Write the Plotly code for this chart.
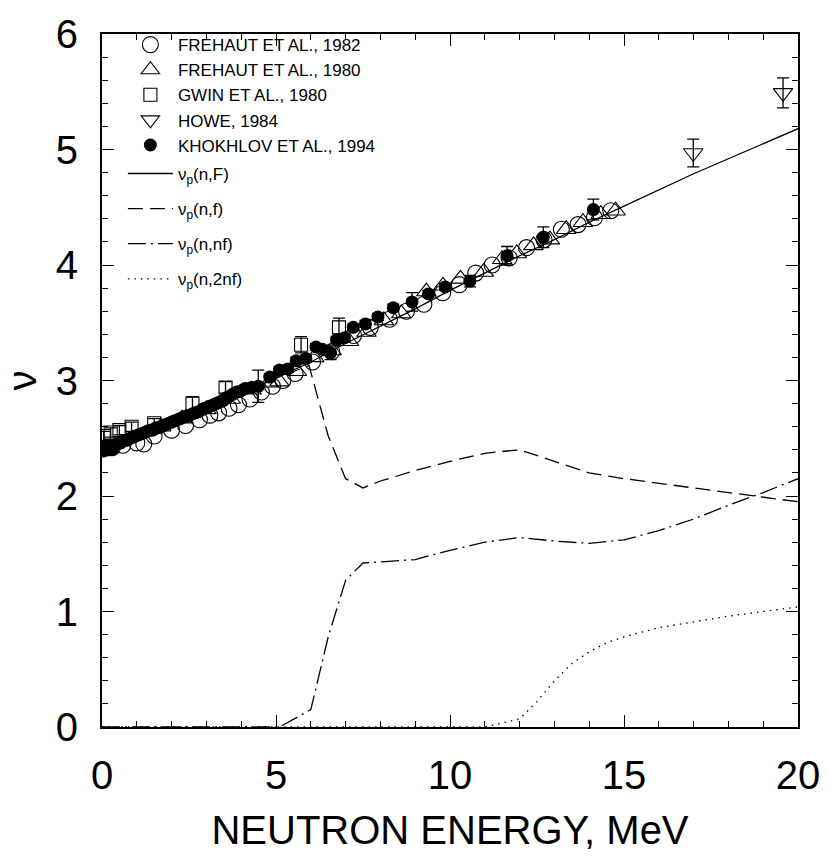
import plotly.graph_objects as go

# ---------------- data ----------------
# Evaluated curves
E_tot = [0, 1, 2, 3, 4, 5, 6, 7, 8, 9, 10, 11, 12, 13, 14, 15, 16, 17, 18, 19, 20]
nu_tot = [2.42, 2.53, 2.65, 2.77, 2.89, 3.02, 3.16, 3.32, 3.47, 3.62, 3.78, 3.93, 4.08, 4.22, 4.37, 4.51, 4.65, 4.79, 4.92, 5.05, 5.18]

E_f = [0, 1, 2, 3, 4, 5, 5.6, 5.95, 6.5, 7.0, 7.5, 8, 9, 10, 11, 12, 13, 14, 15, 16, 17, 18, 19, 20]
nu_f = [2.42, 2.53, 2.65, 2.77, 2.89, 3.02, 3.09, 3.13, 2.52, 2.15, 2.07, 2.13, 2.22, 2.30, 2.37, 2.40, 2.30, 2.20, 2.15, 2.11, 2.07, 2.03, 1.99, 1.95]

E_nf = [0, 5.1, 6.0, 6.5, 7.0, 7.5, 8, 9, 10, 11, 12, 13, 14, 15, 16, 17, 18, 19, 20]
nu_nf = [0, 0.0, 0.15, 0.78, 1.27, 1.42, 1.43, 1.45, 1.53, 1.60, 1.64, 1.61, 1.59, 1.62, 1.70, 1.80, 1.92, 2.03, 2.15]

E_2nf = [0, 11.0, 12.0, 12.5, 13.0, 13.5, 14, 14.5, 15, 16, 17, 18, 19, 20]
nu_2nf = [0, 0.0, 0.07, 0.22, 0.40, 0.55, 0.65, 0.73, 0.78, 0.86, 0.91, 0.96, 1.00, 1.04]

# Experimental data
E_fre82 = [0.3, 0.6, 1.0, 1.2, 1.5, 2.0, 2.4, 2.8, 3.1, 3.35, 3.65, 3.92, 4.25, 4.58, 4.9, 5.2, 5.55,
           6.05, 6.6, 7.23, 7.71, 8.26, 8.75, 9.25, 9.79, 10.27, 10.74, 11.21, 11.7, 12.2, 12.7, 13.2,
           13.68, 14.15, 14.62]
nu_fre82 = [2.42, 2.44, 2.46, 2.45, 2.52, 2.57, 2.61, 2.66, 2.70, 2.72, 2.76, 2.79, 2.84, 2.90, 2.95,
            3.00, 3.06, 3.16, 3.25, 3.39, 3.46, 3.53, 3.60, 3.66, 3.76, 3.83, 3.93, 4.00, 4.06, 4.15,
            4.22, 4.31, 4.35, 4.41, 4.47]

E_fre80 = [1.7, 2.3, 3.0, 3.7, 4.3, 4.8, 5.1, 5.6, 6.1, 6.6, 7.1, 7.6, 8.1, 8.6, 9.32, 9.8, 10.3,
           10.97, 11.5, 11.92, 12.4, 12.87, 13.34, 13.82, 14.33, 14.76]
nu_fre80 = [2.60, 2.67, 2.75, 2.84, 2.92, 2.98, 2.99, 3.08, 3.20, 3.26, 3.34, 3.42, 3.52, 3.58, 3.77,
            3.82, 3.88, 3.94, 4.05, 4.10, 4.17, 4.22, 4.31, 4.37, 4.44, 4.47]

E_gwin = [0.05, 0.25, 0.5, 0.85, 1.5, 2.6, 3.55, 5.72, 6.81]
nu_gwin = [2.52, 2.55, 2.57, 2.60, 2.63, 2.80, 2.94, 3.31, 3.46]
err_gwin = [0.04, 0.04, 0.04, 0.04, 0.04, 0.06, 0.05, 0.07, 0.08]

E_howe = [16.99, 19.57]
nu_howe = [4.97, 5.49]
err_howe = [0.12, 0.13]

E_kho = [0.02, 0.05, 0.10, 0.14, 0.18, 0.23, 0.28, 0.32, 0.37, 0.42,
         0.48, 0.54, 0.60, 0.67, 0.75, 0.82, 0.89, 0.97, 1.05, 1.13,
         1.22, 1.30, 1.38, 1.46, 1.55, 1.62, 1.70, 1.77, 1.84, 1.92,
         2.00, 2.08, 2.17, 2.25, 2.33, 2.41, 2.50, 2.59, 2.68, 2.78,
         2.88, 2.96, 3.05, 3.12, 3.20, 3.28, 3.35, 3.43, 3.50, 3.57,
         3.64, 3.75, 3.87, 3.99, 4.11, 4.30, 4.49, 4.82, 5.10, 5.34,
         5.58, 5.86, 6.15, 6.33, 6.57, 6.74, 6.97, 7.22, 7.57, 7.93,
         8.37, 8.91, 9.38, 9.86, 10.57, 11.64, 12.68, 14.12]
nu_kho = [2.43, 2.39, 2.41, 2.44, 2.40, 2.42, 2.40, 2.43, 2.44, 2.45,
          2.46, 2.46, 2.48, 2.48, 2.49, 2.50, 2.51, 2.52, 2.53, 2.54,
          2.55, 2.56, 2.57, 2.57, 2.59, 2.59, 2.60, 2.61, 2.62, 2.63,
          2.64, 2.65, 2.66, 2.67, 2.68, 2.69, 2.70, 2.71, 2.72, 2.73,
          2.75, 2.76, 2.77, 2.78, 2.79, 2.80, 2.81, 2.82, 2.83, 2.85,
          2.86, 2.88, 2.90, 2.91, 2.93, 2.94, 2.95, 3.03, 3.09, 3.10,
          3.17, 3.19, 3.29, 3.27, 3.24, 3.35, 3.37, 3.46, 3.49, 3.55,
          3.63, 3.68, 3.75, 3.81, 3.86, 4.08, 4.24, 4.48]
err_kho = [0.02, 0.02, 0.02, 0.02, 0.02, 0.02, 0.02, 0.02, 0.02, 0.02,
           0.02, 0.02, 0.02, 0.02, 0.02, 0.02, 0.02, 0.02, 0.02, 0.02,
           0.02, 0.02, 0.02, 0.02, 0.02, 0.02, 0.02, 0.02, 0.02, 0.02,
           0.02, 0.02, 0.02, 0.02, 0.02, 0.02, 0.02, 0.02, 0.02, 0.02,
           0.02, 0.02, 0.02, 0.02, 0.02, 0.02, 0.02, 0.02, 0.02, 0.02,
           0.02, 0.02, 0.02, 0.02, 0.03, 0.03, 0.14, 0.03, 0.03, 0.03,
           0.03, 0.03, 0.03, 0.03, 0.06, 0.03, 0.03, 0.03, 0.03, 0.03,
           0.03, 0.08, 0.03, 0.03, 0.05, 0.08, 0.09, 0.09]

labels = ["FREHAUT ET AL., 1982", "FREHAUT ET AL., 1980", "GWIN ET AL., 1980", "HOWE, 1984",
          "KHOKHLOV ET AL., 1994", "ν<sub>p</sub>(n,F)", "ν<sub>p</sub>(n,f)",
          "ν<sub>p</sub>(n,nf)", "ν<sub>p</sub>(n,2nf)"]

# ---------------- figure ----------------
FONT = "Liberation Sans, Arial, sans-serif"
BLACK = "#000000"

fig = go.Figure()

def err(arr):
    return dict(type="data", array=arr, visible=True, color=BLACK, thickness=1.3, width=6)

fig.add_trace(go.Scatter(x=E_fre82, y=nu_fre82, mode="markers", name=labels[0], legend="legend",
                         marker=dict(symbol="circle-open", size=16, color=BLACK, line=dict(width=1.1))))
fig.add_trace(go.Scatter(x=E_fre80, y=nu_fre80, mode="markers", name=labels[1], legend="legend",
                         marker=dict(symbol="triangle-up-open", size=17, color=BLACK, line=dict(width=1.1))))
fig.add_trace(go.Scatter(x=E_gwin, y=nu_gwin, mode="markers", name=labels[2], error_y=err(err_gwin),
                         legend="legend",
                         marker=dict(symbol="square-open", size=13, color=BLACK, line=dict(width=1.1))))
fig.add_trace(go.Scatter(x=E_howe, y=nu_howe, mode="markers", name=labels[3], error_y=err(err_howe),
                         legend="legend",
                         marker=dict(symbol="triangle-down-open", size=17, color=BLACK, line=dict(width=1.1))))
fig.add_trace(go.Scatter(x=E_kho, y=nu_kho, mode="markers", name=labels[4], error_y=err(err_kho),
                         legend="legend",
                         marker=dict(symbol="circle", size=13, color=BLACK)))

line_specs = [(E_tot, nu_tot, "solid"), (E_f, nu_f, "15px,7px"),
              (E_nf, nu_nf, "18px,5px,2px,5px"), (E_2nf, nu_2nf, "1.5px,5px")]
for i, (xs, ys, dash) in enumerate(line_specs):
    fig.add_trace(go.Scatter(x=xs, y=ys, mode="lines", name=labels[5 + i], legend="legend2",
                             legendgroup=f"g{i}",
                             line=dict(color=BLACK, width=1.3, dash=dash)))

axis_common = dict(
    showline=True, linecolor=BLACK, linewidth=2, mirror="allticks",
    ticks="inside", ticklen=12, tickwidth=1.2, tickcolor=BLACK,
    showgrid=False, zeroline=False,
    tickfont=dict(family=FONT, size=40, color=BLACK),
)

legend_common = dict(xanchor="left", yanchor="top", bgcolor="rgba(0,0,0,0)", borderwidth=0,
                     font=dict(family=FONT, size=17, color=BLACK), itemwidth=45)

fig.update_layout(
    width=832, height=857,
    margin=dict(l=102, r=26, t=25, b=128),
    paper_bgcolor="white", plot_bgcolor="white",
    font=dict(family=FONT, color=BLACK),
    showlegend=True,
    legend=dict(x=0.03, y=1.01, tracegroupgap=0, **legend_common),
    legend2=dict(x=0.03, y=0.824, tracegroupgap=10, traceorder="grouped", **legend_common),
    xaxis=dict(range=[0, 20], dtick=5, tick0=0,
               minor=dict(ticks="inside", dtick=1, ticklen=6, tickwidth=1.2, tickcolor=BLACK),
               title=dict(text="NEUTRON ENERGY, MeV", font=dict(family=FONT, size=40, color=BLACK), standoff=20),
               ticklabelstandoff=12,
               **axis_common),
    yaxis=dict(range=[0, 6], dtick=1, tick0=0,
               minor=dict(ticks="inside", dtick=0.2, ticklen=6, tickwidth=1.2, tickcolor=BLACK),
               title=dict(text="ν", font=dict(family=FONT, size=40, color=BLACK), standoff=14),
               ticklabelstandoff=14,
               **axis_common),
)

fig.write_html("out.html")
